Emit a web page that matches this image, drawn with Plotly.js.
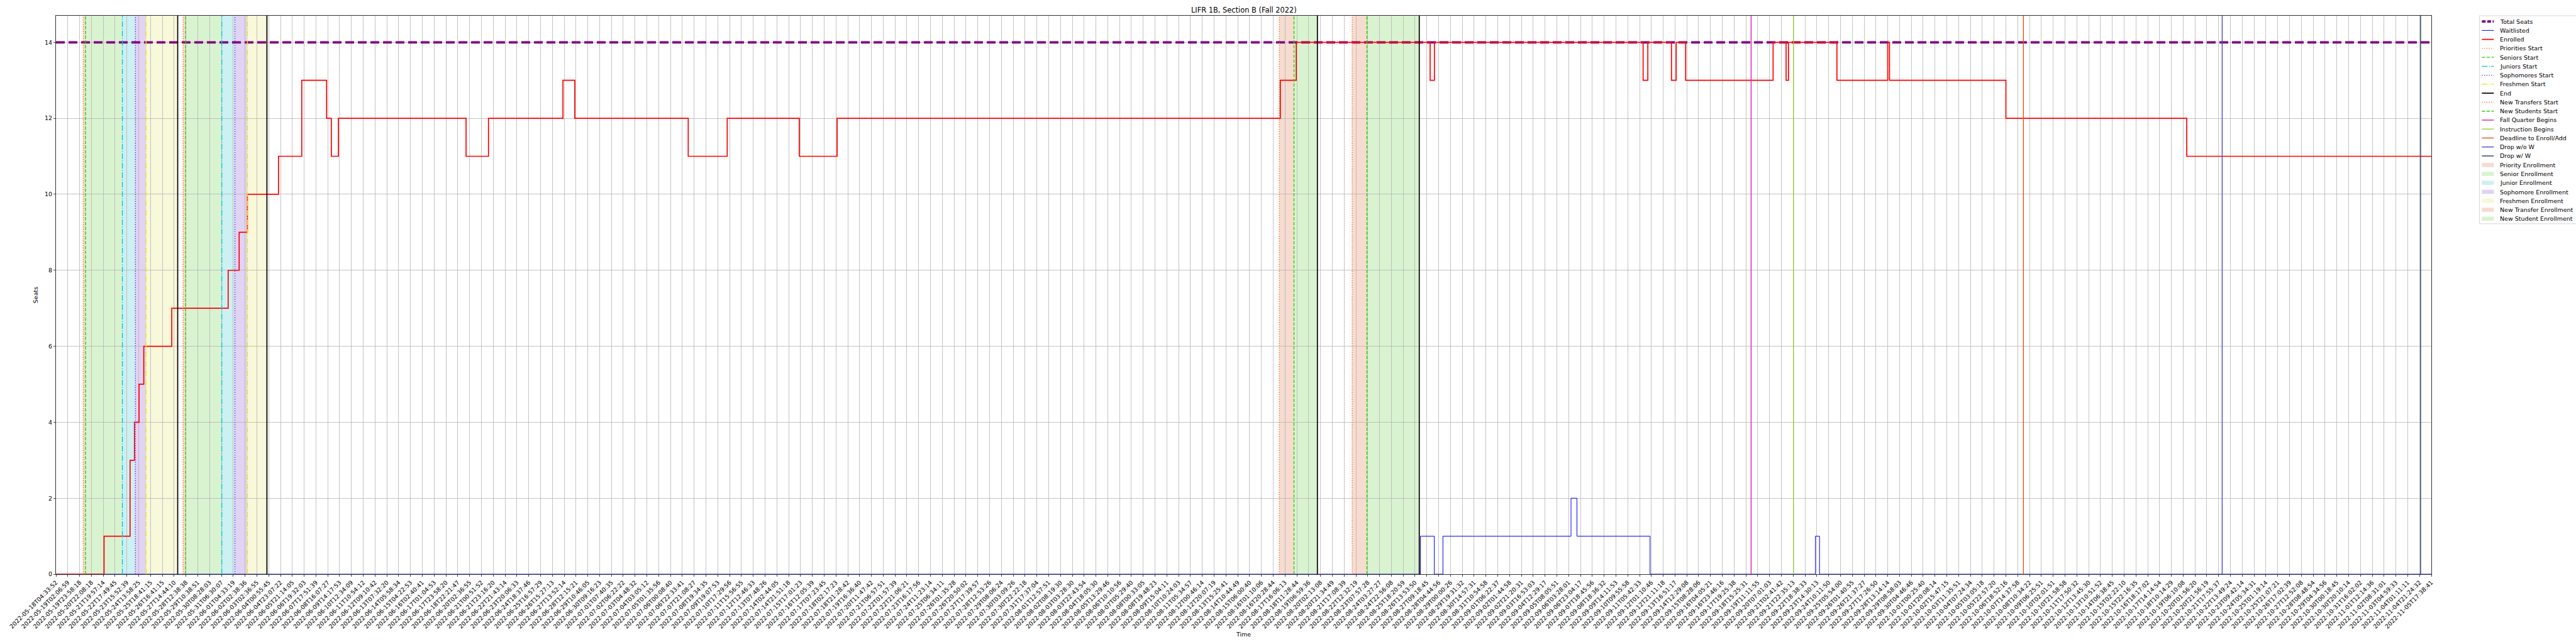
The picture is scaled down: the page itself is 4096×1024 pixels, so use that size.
<!DOCTYPE html>
<html><head><meta charset="utf-8">
<script src="https://cdn.plot.ly/plotly-3.0.1.min.js"></script>
<style>html,body{margin:0;padding:0;background:#fff;} #chart{width:4096px;height:1024px;}</style>
</head><body><div id="chart"></div>
<script>
// ---------------- data ----------------
const tickLabels = [
"2022-05-18T04:33:52","2022-05-19T02:06:59","2022-05-19T23:58:18","2022-05-20T22:08:18","2022-05-21T19:57:14",
"2022-05-22T17:49:45","2022-05-23T15:52:39","2022-05-24T13:58:25","2022-05-25T18:41:15","2022-05-26T16:41:15",
"2022-05-27T14:44:10","2022-05-28T12:38:38","2022-05-29T10:38:51","2022-05-30T08:28:03","2022-05-31T06:30:07",
"2022-06-01T04:33:19","2022-06-02T02:38:36","2022-06-03T02:36:55","2022-06-04T00:55:45","2022-06-04T23:07:22",
"2022-06-05T21:14:05","2022-06-06T19:32:03","2022-06-07T17:51:39","2022-06-08T16:07:27","2022-06-09T14:17:53",
"2022-06-10T12:34:09","2022-06-11T10:54:12","2022-06-12T09:10:42","2022-06-13T07:32:20","2022-06-14T05:58:34",
"2022-06-15T04:22:53","2022-06-16T02:40:41","2022-06-17T01:04:53","2022-06-17T23:58:20","2022-06-18T22:21:47",
"2022-06-20T02:36:55","2022-06-21T00:51:52","2022-06-21T23:16:20","2022-06-22T21:43:14","2022-06-23T20:06:33",
"2022-06-24T18:37:46","2022-06-25T16:57:29","2022-06-26T15:27:13","2022-06-27T13:52:14","2022-06-28T12:15:21",
"2022-06-29T10:46:05","2022-06-30T09:16:23","2022-07-01T07:40:35","2022-07-02T06:22:22","2022-07-03T04:48:32",
"2022-07-04T03:05:12","2022-07-05T01:35:56","2022-07-06T00:08:40","2022-07-06T22:33:41","2022-07-07T21:08:27",
"2022-07-08T19:34:35","2022-07-09T19:07:53","2022-07-10T17:29:56","2022-07-11T15:56:55","2022-07-12T12:46:33",
"2022-07-13T07:48:26","2022-07-14T02:44:05","2022-07-14T21:51:18","2022-07-15T17:01:23","2022-07-16T12:05:39",
"2022-07-17T07:23:45","2022-07-18T02:17:23","2022-07-18T21:28:42","2022-07-19T16:36:40","2022-07-20T11:47:42",
"2022-07-21T06:57:51","2022-07-22T01:57:39","2022-07-22T21:06:21","2022-07-23T16:17:56","2022-07-24T11:23:14",
"2022-07-25T06:34:11","2022-07-26T01:35:28","2022-07-26T20:50:02","2022-07-27T17:39:57","2022-07-28T12:53:26",
"2022-07-29T08:06:24","2022-07-30T03:09:26","2022-07-30T22:22:18","2022-07-31T17:37:04","2022-08-01T12:57:51",
"2022-08-02T08:19:30","2022-08-03T03:28:30","2022-08-03T22:43:54","2022-08-04T18:05:30","2022-08-05T13:29:46",
"2022-08-06T10:10:56","2022-08-07T05:29:40","2022-08-08T00:33:05","2022-08-08T19:48:23","2022-08-09T15:04:11",
"2022-08-10T10:24:03","2022-08-11T05:34:57","2022-08-12T00:46:14","2022-08-12T20:07:19","2022-08-13T15:25:41",
"2022-08-14T10:44:49","2022-08-15T06:00:40","2022-08-16T01:10:06","2022-08-16T20:28:44","2022-08-17T16:06:13",
"2022-08-18T11:28:44","2022-08-19T06:59:36","2022-08-20T02:13:08","2022-08-20T21:34:49","2022-08-21T17:08:39",
"2022-08-22T12:32:19","2022-08-23T07:57:28","2022-08-24T03:27:27","2022-08-24T22:56:08","2022-08-25T18:20:59",
"2022-08-26T13:53:50","2022-08-27T09:18:45","2022-08-28T04:44:56","2022-08-29T00:00:26","2022-08-29T19:31:32",
"2022-08-30T14:57:31","2022-08-31T10:54:58","2022-09-01T06:22:37","2022-09-02T01:44:58","2022-09-02T21:20:31",
"2022-09-03T16:53:03","2022-09-04T12:29:17","2022-09-05T08:05:51","2022-09-06T03:28:01","2022-09-06T23:04:17",
"2022-09-07T18:45:56","2022-09-08T18:36:32","2022-09-09T14:11:53","2022-09-10T09:55:58","2022-09-11T05:42:33",
"2022-09-12T01:10:46","2022-09-12T21:11:18","2022-09-13T16:51:17","2022-09-14T12:29:08","2022-09-15T08:28:06",
"2022-09-16T04:05:21","2022-09-16T23:46:16","2022-09-17T19:25:38","2022-09-18T15:25:31","2022-09-19T11:11:55",
"2022-09-20T07:01:03","2022-09-21T02:41:42","2022-09-21T22:35:13","2022-09-22T18:38:33","2022-09-23T14:30:13",
"2022-09-24T10:11:50","2022-09-25T05:54:00","2022-09-26T01:40:55","2022-09-26T21:37:27","2022-09-27T17:26:50",
"2022-09-28T13:14:14","2022-09-29T08:58:03","2022-09-30T04:46:46","2022-10-01T00:25:40","2022-10-01T20:08:14",
"2022-10-02T15:47:15","2022-10-03T11:35:51","2022-10-04T07:24:34","2022-10-05T03:05:18","2022-10-05T22:57:20",
"2022-10-06T18:52:16","2022-10-07T14:37:58","2022-10-08T10:34:22","2022-10-09T06:25:51","2022-10-10T02:01:51",
"2022-10-10T21:58:58","2022-10-11T17:50:32","2022-10-12T13:45:30","2022-10-13T10:51:52","2022-10-14T06:38:45",
"2022-10-15T02:22:10","2022-10-15T22:16:35","2022-10-16T18:17:02","2022-10-17T14:14:54","2022-10-18T10:14:29",
"2022-10-19T06:10:08","2022-10-20T01:56:20","2022-10-20T21:56:19","2022-10-21T17:55:37","2022-10-22T13:49:24",
"2022-10-23T09:42:14","2022-10-24T05:34:31","2022-10-25T01:19:14","2022-10-25T21:07:21","2022-10-26T17:02:39",
"2022-10-27T12:52:08","2022-10-28T08:48:54","2022-10-29T04:34:56","2022-10-30T00:18:45","2022-10-30T20:10:14",
"2022-10-31T16:02:02","2022-11-01T12:14:36","2022-11-02T08:31:01","2022-11-03T04:59:33","2022-11-04T01:11:11",
"2022-11-04T21:24:32","2022-11-05T17:38:41"
];
// positions are in tick-index units (sample position along the time axis)
const totalSeats = 14;
const enrolledX = [0, 4.07, 6.27, 6.64, 7.03, 7.43, 9.80, 14.57, 15.50, 16.20, 18.83, 20.8, 22.9, 23.3, 23.9,
  34.7, 36.6, 42.9, 43.9, 53.5, 56.8, 62.9, 66.1, 103.6, 104.95, 116.28, 116.64, 134.3, 134.7, 136.7, 137.1,
  137.9, 145.3, 146.4, 146.6, 146.9, 150.7, 155.0, 155.15, 165.0, 180.3, 201];
const enrolledY = [0, 1, 3, 4, 5, 6, 7, 8, 9, 10, 11, 13, 12, 11, 12,
  11, 12, 13, 12, 11, 12, 11, 12, 13, 14, 13, 14, 13, 14, 13, 14,
  13, 14, 13, 14, 14, 13, 14, 13, 12, 11, 11];
const waitlistX = [0, 115.46, 116.63, 117.36, 128.2, 128.7, 134.89, 148.88, 149.23, 201];
const waitlistY = [0, 1, 0, 1, 2, 1, 0, 1, 0, 0];

const eventNames = ["Priorities Start","Seniors Start","Juniors Start","Sophomores Start","Freshmen Start","End",
  "New Transfers Start","New Students Start","Fall Quarter Begins","Instruction Begins","Deadline to Enroll/Add",
  "Drop w/o W","Drop w/ W"];
const eventPositions = [[2.31,10.75],[2.50,10.97],[5.62,14.03],[6.72,15.14],[7.62,16.20],[10.30,17.85,106.74,115.36],
  [103.52,109.68],[104.76,110.93],[143.44],[147.03],[166.48],[183.3],[200.09]];
const spanNames = ["Priority Enrollment","Senior Enrollment","Junior Enrollment","Sophomore Enrollment",
  "Freshmen Enrollment","New Transfer Enrollment","New Student Enrollment"];
const spanStarts = [[2.31,10.75],[2.50,10.97],[5.62,14.03],[6.72,15.14],[7.62,16.20],[103.52,109.68],[104.76,110.93]];
const spanEnds   = [[2.50,10.97],[5.62,14.03],[6.72,15.14],[7.62,16.20],[10.30,17.85],[104.76,110.93],[106.74,115.36]];

// ---------------- styles ----------------
const FONT = "DejaVu Sans";
const dotted = "1.4px,2.3px", dashed = "5.3px,2.3px", dashdot = "9px,2.3px,1.4px,2.3px";
const eventStyles = [
  {color:"#ff6a33", dash:dotted, width:1.4},
  {color:"#33cc11", dash:dashed, width:1.4},
  {color:"#00c8da", dash:dashdot, width:1.4},
  {color:"#6a22dd", dash:dotted, width:1.4},
  {color:"#e6e61a", dash:dashdot, width:1.4},
  {color:"#000000", dash:"solid", width:1.7},
  {color:"#ff6a33", dash:dotted, width:1.4},
  {color:"#33cc11", dash:dashed, width:1.4},
  {color:"#e619a8", dash:"solid", width:1.4},
  {color:"#9acd32", dash:"solid", width:1.4},
  {color:"#e0521c", dash:"solid", width:1.4},
  {color:"#4b4bd1", dash:"solid", width:1.4},
  {color:"#2b3d63", dash:"solid", width:1.4}
];
const spanColors = ["#f6dccf","#d9f3d0","#cdf0f2","#e0d3f3","#f8f8da","#f6dccf","#d9f3d0"];

const W = 4096, H = 1024;
const M = {l: 89.3, r: W - 3866.5, t: 25.2, b: H - 912.7};
const px2x = p => (p - M.l) / (W - M.l - M.r);
const py2y = p => 1 - (p - M.t) / (H - M.t - M.b);

// ---------------- traces ----------------
const lastIdx = tickLabels.length - 1;
const traces = [
  {x:[0, lastIdx], y:[totalSeats, totalSeats], mode:"lines", name:"Total Seats",
   line:{color:"#800080", width:3.7, dash:"14px,6px"}, hoverinfo:"skip"},
  {x:waitlistX, y:waitlistY, mode:"lines", name:"Waitlisted", line:{color:"#0000ff", width:1, shape:"hv"}},
  {x:enrolledX, y:enrolledY, mode:"lines", name:"Enrolled", line:{color:"#ff0000", width:1.7, shape:"hv"}}
];

// ---------------- shapes ----------------
const shapes = [];
spanNames.forEach((n, i) => {
  spanStarts[i].forEach((s, j) => {
    shapes.push({type:"rect", xref:"x", yref:"paper", x0:s, x1:spanEnds[i][j], y0:0, y1:1,
      fillcolor:spanColors[i], line:{width:0}, layer:"below"});
  });
});
eventNames.forEach((n, i) => {
  eventPositions[i].forEach(p => {
    shapes.push({type:"line", xref:"x", yref:"paper", x0:p, x1:p, y0:0, y1:1, layer:"above",
      line:{color:eventStyles[i].color, width:eventStyles[i].width, dash:eventStyles[i].dash}});
  });
});

// manual legend (matplotlib-like, outside right)
const annotations = [];
const legLeft = 3943, legTop = 25.2, rowH = 14.25, row0 = 34.3;
const handleX0 = legLeft + 3.8, handleX1 = handleX0 + 19, textX = handleX1 + 7.6;
const nRows = 3 + eventNames.length + spanNames.length;
shapes.push({type:"rect", xref:"paper", yref:"paper", x0:px2x(legLeft), x1:px2x(4110),
  y0:py2y(legTop + 2*3.8 + nRows*rowH - 4.7), y1:py2y(legTop), fillcolor:"rgba(255,255,255,0.8)",
  line:{color:"#cccccc", width:0.8}, layer:"above"});
const legendItems = [];
legendItems.push({name:"Total Seats", kind:"line", color:"#800080", width:3.7, dash:"6px,2.6px"});
legendItems.push({name:"Waitlisted", kind:"line", color:"#0000ff", width:1, dash:"solid"});
legendItems.push({name:"Enrolled", kind:"line", color:"#ff0000", width:1.7, dash:"solid"});
eventNames.forEach((n, i) => legendItems.push({name:n, kind:"line", ...eventStyles[i]}));
spanNames.forEach((n, i) => legendItems.push({name:n, kind:"patch", color:spanColors[i]}));
legendItems.forEach((it, i) => {
  const yc = row0 + i*rowH;
  if (it.kind === "line") {
    shapes.push({type:"line", xref:"paper", yref:"paper", x0:px2x(handleX0), x1:px2x(handleX1),
      y0:py2y(yc), y1:py2y(yc), line:{color:it.color, width:it.width, dash:it.dash}, layer:"above"});
  } else {
    shapes.push({type:"rect", xref:"paper", yref:"paper", x0:px2x(handleX0), x1:px2x(handleX1),
      y0:py2y(yc + 3.3), y1:py2y(yc - 3.3), fillcolor:it.color, line:{width:0}, layer:"above"});
  }
  annotations.push({xref:"paper", yref:"paper", x:px2x(textX), y:py2y(yc), xanchor:"left", yanchor:"middle",
    text:it.name, showarrow:false, font:{family:FONT, size:9.47, color:"#000"}});
});

const layout = {
  width:W, height:H, showlegend:false,
  margin:{l:M.l, r:M.r, t:M.t, b:M.b, pad:0},
  paper_bgcolor:"#fff", plot_bgcolor:"#fff",
  font:{family:FONT, size:9.47, color:"#000"},
  title:{text:"LIFR 1B, Section B (Fall 2022)", font:{family:FONT, size:11.4, color:"#000"},
    x:(M.l + (W - M.l - M.r)/2)/W, xanchor:"center",
    y:1 - 16/H, yanchor:"middle", yref:"container", xref:"container"},
  xaxis:{range:[0, lastIdx], tickmode:"array", tickvals:tickLabels.map((_, i) => i), ticktext:tickLabels,
    tickangle:-45, tickfont:{family:FONT, size:9.47, color:"#000"}, ticks:"outside", ticklen:3.3, tickwidth:0.75,
    tickcolor:"#000", showgrid:true, gridcolor:"#b0b0b0", gridwidth:0.75, zeroline:false,
    showline:true, linecolor:"#000", linewidth:0.8, mirror:true,
    title:{text:"Time", font:{family:FONT, size:9.47, color:"#000"}, standoff:4}},
  yaxis:{range:[0, 14.7], tickmode:"array", tickvals:[0,2,4,6,8,10,12,14], ticks:"outside", ticklen:3.3,
    tickwidth:0.75, tickcolor:"#000", tickfont:{family:FONT, size:9.47, color:"#000"},
    showgrid:true, gridcolor:"#b0b0b0", gridwidth:0.75, zeroline:false,
    showline:true, linecolor:"#000", linewidth:0.8, mirror:true,
    title:{text:"Seats", font:{family:FONT, size:9.47, color:"#000"}, standoff:8}},
  shapes:shapes, annotations:annotations
};
Plotly.newPlot("chart", traces, layout, {staticPlot:true, displayModeBar:false});
</script></body></html>
